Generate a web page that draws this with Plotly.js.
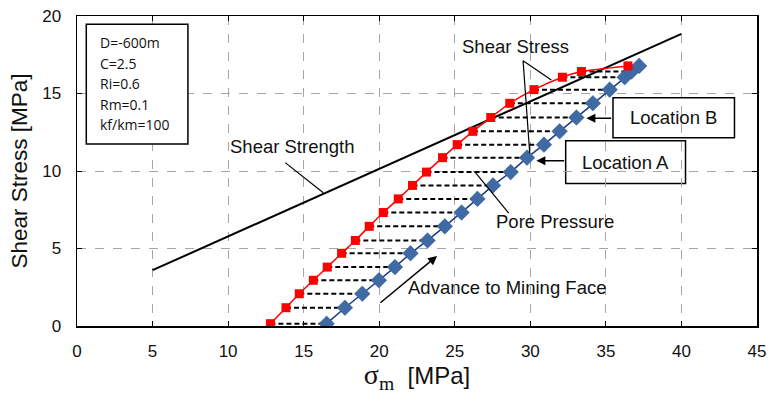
<!DOCTYPE html>
<html>
<head>
<meta charset="utf-8">
<script src="https://cdn.plot.ly/plotly-3.0.1.min.js"></script>
<style>html,body{margin:0;padding:0;background:#fff;}#chart{width:769px;height:394px;}</style>
</head>
<body>
<div id="chart"></div>
<script>
// Stress levels (shared by both series and the dashed connectors)
const stressLevels = [0.15, 1.18, 2.08, 2.95, 3.80, 4.69, 5.52, 6.43, 7.32, 8.20, 9.07, 9.93, 10.86, 11.70, 12.56, 13.45, 14.37, 15.25, 16.05, 16.42, 16.78];
// Total mean stress (red squares)
const totalSigma = [12.80, 13.83, 14.71, 15.64, 16.56, 17.51, 18.42, 19.34, 20.27, 21.26, 22.20, 23.13, 24.19, 25.16, 26.20, 27.38, 28.64, 30.24, 32.12, 33.38, 36.46];
// Effective mean stress (blue diamonds)
const effectiveSigma = [16.52, 17.73, 18.88, 19.98, 21.04, 22.07, 23.20, 24.34, 25.45, 26.50, 27.53, 28.70, 29.78, 30.90, 31.94, 33.05, 34.14, 35.25, 36.24, 36.70, 37.20];
// Shear strength line
const strengthX = [5, 40];
const strengthY = [3.60, 18.85];
// Parameter box text
const paramLines = ["D=-600m", "C=2.5", "Ri=0.6", "Rm=0.1", "kf/km=100"];
const xTicks = [0, 5, 10, 15, 20, 25, 30, 35, 40, 45];
const yTicks = [0, 5, 10, 15, 20];

// Dashed connectors (pore pressure)
const conX = [], conY = [];
for (let i = 0; i < stressLevels.length; i++) {
  conX.push(totalSigma[i], effectiveSigma[i], null);
  conY.push(stressLevels[i], stressLevels[i], null);
}

const traces = [
  {x: conX, y: conY, mode: 'lines', line: {color: '#000', width: 2, dash: '5px,3px'}, hoverinfo: 'skip', showlegend: false},
  {x: strengthX, y: strengthY, mode: 'lines', line: {color: '#000', width: 2}, showlegend: false},
  {x: effectiveSigma, y: stressLevels, mode: 'lines+markers', line: {color: '#1c3a85', width: 1.5},
   marker: {symbol: 'diamond', size: 12, color: '#3f6aa3', line: {color: '#2f5890', width: 0.5}}, showlegend: false},
  {x: totalSigma, y: stressLevels, mode: 'lines+markers', line: {color: '#ff0000', width: 1.5, shape: 'spline', smoothing: 0.6},
   marker: {symbol: 'square', size: 9, color: '#ff0000'}, showlegend: false}
];

const txtFont = {family: 'Arial, Liberation Sans, sans-serif', size: 18.5, color: '#111'};
const annotations = [
  {x: 14.23, y: 11.61, text: 'Shear Strength', showarrow: false, font: txtFont},
  {x: 29.04, y: 18.06, text: 'Shear Stress', showarrow: false, font: txtFont},
  {x: 31.6, y: 6.73, text: 'Pore Pressure', showarrow: false, font: txtFont},
  {x: 28.44, y: 2.47, text: 'Advance to Mining Face', showarrow: false, font: txtFont},
  {x: 39.48, y: 13.42, text: 'Location B', showarrow: false, font: {family: 'Arial, Liberation Sans, sans-serif', size: 18.5, color: '#111'}},
  {x: 36.3, y: 10.58, text: 'Location A', showarrow: false, font: {family: 'Arial, Liberation Sans, sans-serif', size: 18.5, color: '#111'}},
  // arrows
  {x: 23.83, y: 4.52, ax: 19.98, ay: 1.42, axref: 'x', ayref: 'y', xref: 'x', yref: 'y', text: '', showarrow: true, arrowhead: 2, arrowsize: 1.2, arrowwidth: 1.5, arrowcolor: '#000'},
  {x: 33.71, y: 13.40, ax: 35.45, ay: 13.40, axref: 'x', ayref: 'y', text: '', showarrow: true, arrowhead: 2, arrowsize: 1.2, arrowwidth: 1.5, arrowcolor: '#000'},
  {x: 30.40, y: 10.66, ax: 32.34, ay: 10.66, axref: 'x', ayref: 'y', text: '', showarrow: true, arrowhead: 2, arrowsize: 1.2, arrowwidth: 1.5, arrowcolor: '#000'}
];
const paramY = [18.28, 16.95, 15.66, 14.32, 13.01];
paramLines.forEach((t, i) => annotations.push({x: 1.36, y: paramY[i], xanchor: 'left', yanchor: 'middle', text: t, showarrow: false,
  font: {family: 'Open Sans, sans-serif', size: 14, color: '#111'}}));

const shapes = [
  {type: 'rect', x0: 0.615, x1: 7.34, y0: 11.74, y1: 19.46, line: {color: '#000', width: 1.5}, fillcolor: '#fff', layer: 'above'},
  {type: 'rect', x0: 35.47, x1: 43.51, y0: 12.15, y1: 14.73, line: {color: '#000', width: 1.5}, fillcolor: '#fff', layer: 'below'},
  {type: 'rect', x0: 32.34, x1: 40.27, y0: 9.20, y1: 11.95, line: {color: '#000', width: 1.5}, fillcolor: '#fff', layer: 'below'},
  // leader lines
  {type: 'line', x0: 13.78, y0: 10.54, x1: 16.3, y1: 8.6, line: {color: '#000', width: 1.2}},
  {type: 'line', x0: 29.52, y0: 17.12, x1: 31.39, y1: 15.87, line: {color: '#000', width: 1.2}},
  {type: 'line', x0: 29.52, y0: 17.12, x1: 29.96, y1: 11.14, line: {color: '#000', width: 1.2}},
  {type: 'line', x0: 26.33, y0: 9.94, x1: 28.57, y1: 7.29, line: {color: '#000', width: 1.2}}
];

const axisCommon = {
  showgrid: true, gridcolor: '#a6a6a6', gridwidth: 1, griddash: 'dash', zeroline: false,
  showline: true, linecolor: '#000', linewidth: 1.5, mirror: 'ticks',
  ticks: 'inside', ticklen: 5, tickcolor: '#000', tickwidth: 1,
  tickfont: {family: 'Arial, Liberation Sans, sans-serif', size: 17, color: '#111'}
};

const layout = {
  width: 769, height: 394,
  margin: {l: 77, r: 12, t: 16, b: 68},
  paper_bgcolor: '#fff', plot_bgcolor: '#fff',
  xaxis: Object.assign({}, axisCommon, {range: [0, 45], tickvals: xTicks, ticklabelstandoff: 9,
    title: {text: "<span style='font-family:Liberation Serif, Times New Roman, serif;font-size:28px'>σ<sub>m</sub></span>  [MPa]",
      font: {family: 'Arial, Liberation Sans, sans-serif', size: 24, color: '#111'}, standoff: 10}}),
  yaxis: Object.assign({}, axisCommon, {range: [0, 20], tickvals: yTicks, ticklabelstandoff: 11,
    title: {text: 'Shear Stress [MPa]', font: {family: 'Arial, Liberation Sans, sans-serif', size: 22.5, color: '#111'}, standoff: 8}}),
  annotations: annotations,
  shapes: shapes,
  showlegend: false
};

Plotly.newPlot('chart', traces, layout, {displayModeBar: false, staticPlot: true});
</script>
</body>
</html>
